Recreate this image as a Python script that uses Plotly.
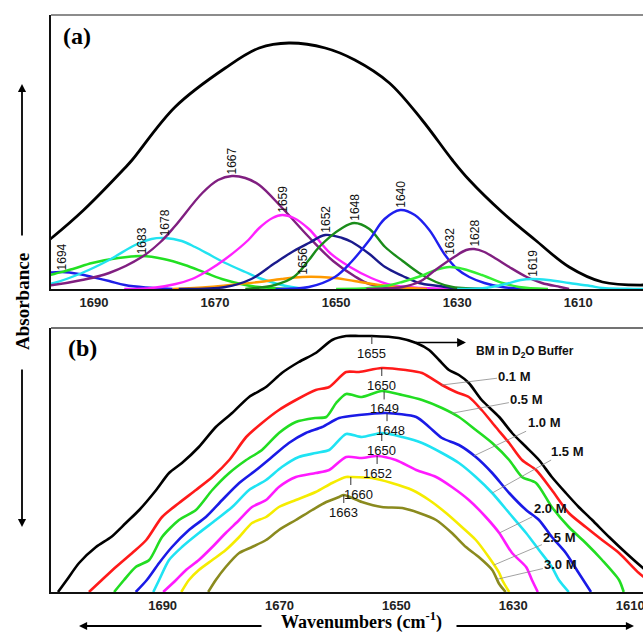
import numpy as np
import plotly.graph_objects as go

# ---------------- Panel (a): amide I band fitting ----------------
# Measured spectrum (black)
a_black_w = [1698.5, 1696.8, 1691.7, 1684.9, 1683.7, 1676.6, 1668.3, 1662.7, 1657.8, 1651.8,
             1646.9, 1641.2, 1635.8, 1630.8, 1628.0, 1622.6, 1617.1, 1611.5, 1606.0, 1598.9]
a_black_h = [44, 52, 79, 121, 129, 182, 221, 241, 246, 241,
             229, 206, 169, 129, 109, 77, 49, 22, 7, 4]

# Fitted component bands (wavenumber, height in arbitrary units)
b1694_w = [1699, 1697.1, 1695.3, 1692.5, 1690.3, 1687.5, 1684.9, 1681.5, 1677]
b1694_h = [15, 16.5, 17, 15, 12, 8, 4, 1.5, 0]
b1683_w = [1699, 1696.6, 1693.5, 1690.3, 1686, 1682.1, 1678.5, 1675.0, 1671.5, 1668.3, 1665, 1662.7, 1658]
b1683_h = [11, 15, 20, 26, 31, 33, 30, 24, 16, 9, 4, 2, 0]
b1678_w = [1699, 1696.6, 1692, 1687.5, 1683.2, 1680.5, 1678.3, 1675.5, 1673.3, 1670.5, 1668.3, 1665, 1662.7, 1659, 1655]
b1678_h = [3, 6, 16, 29, 44, 50, 51, 48, 42, 33, 26, 17, 11, 4, 0]
b1667_w = [1699, 1696.8, 1692, 1687.5, 1682.1, 1679, 1676.6, 1672.1, 1669.5, 1667.2, 1665, 1662.7,
           1658.9, 1654.5, 1650.5, 1647, 1644.5, 1640, 1635]
b1667_h = [3, 4, 9, 16, 32, 47, 63, 96, 109, 113, 111, 104, 81, 52, 28, 13, 5, 1, 0]
b1659_w = [1685, 1680.4, 1676.5, 1673.8, 1671, 1668.3, 1664.5, 1662.7, 1660.5, 1658.9, 1657, 1654.5,
           1651.0, 1647.7, 1644.2, 1640.9, 1636, 1630]
b1659_h = [0, 1, 5, 10, 19, 30, 49, 61, 71, 74, 71, 60, 36, 22, 11, 4, 1, 0]
b1656_w = [1677, 1671.0, 1666, 1662.7, 1659, 1655.6, 1652.5, 1650.2, 1647, 1644, 1640, 1635]
b1656_h = [0, 2, 5, 7, 10, 12, 12, 11, 8, 5, 2, 0]
b1652_w = [1676, 1668.3, 1664, 1660.1, 1657, 1654.5, 1651.8, 1649, 1647.4, 1644.5, 1641.9, 1639,
           1636.3, 1633, 1630.8, 1625]
b1652_h = [0, 2, 10, 26, 38, 46, 54, 51, 47, 35, 22, 13, 6, 3, 1, 0]
b1648_w = [1665, 1660.1, 1657, 1654.5, 1652.8, 1649.0, 1647.0, 1644.5, 1641.9, 1639, 1636.3, 1633.5, 1630.8, 1625]
b1648_h = [0, 4, 12, 29, 42, 61, 66, 60, 42, 28, 16, 7, 2, 0]
b1640_w = [1660, 1654.5, 1650.2, 1647.5, 1644.5, 1642, 1639.4, 1637, 1634.6, 1632.0, 1630, 1628.0,
           1625.5, 1622.6, 1618]
b1640_h = [0, 2, 12, 27, 49, 70, 79, 74, 59, 34, 20, 12, 6, 2, 0]
b1632_w = [1650, 1644.5, 1641, 1639.1, 1636, 1633.5, 1631.3, 1629, 1625.9, 1622.5, 1619.8, 1615]
b1632_h = [0, 1, 4, 7, 13, 19, 22, 20, 14, 6, 2, 0]
b1628_w = [1645, 1639.1, 1636, 1633.6, 1630.5, 1628.5, 1627.2, 1625.5, 1623.5, 1621.4, 1618.5, 1616.0, 1613, 1611.5]
b1628_h = [0, 2, 8, 19, 32, 39, 40, 37, 30, 22, 12, 6, 2, 0]
b1619_w = [1630, 1625.4, 1622, 1619.5, 1617.6, 1615, 1611.5, 1608, 1606.0, 1602, 1599]
b1619_h = [0, 1, 5, 9, 10, 9, 6, 3, 1, 0.3, 0]

band_names = ["1694", "1683", "1678", "1667", "1659", "1656", "1652", "1648", "1640", "1632", "1628", "1619"]

# ---------------- Panel (b): spectra vs. concentration ----------------
s_buffer_w = [1707.9, 1706.4, 1704.3, 1701.4, 1698.8, 1696.3, 1694.0, 1691.1, 1688.9, 1686.7, 1683.8, 1680.9,
              1678.1, 1675.2, 1672.3, 1669.6, 1666.7, 1663.8, 1661.0, 1658.6, 1656.4, 1654.2, 1649.6, 1646.6,
              1644.4, 1642.7, 1641.0, 1639.3, 1637.6, 1635.4, 1632.4, 1630.2, 1627.8, 1625.6, 1623.4, 1621.0,
              1618.8, 1616.5, 1613.6, 1610.7, 1608.0, 1606.5]
s_buffer_h = [0, 12, 29, 45, 55, 69, 82, 102, 119, 129, 145, 165,
              179, 195, 205, 219, 230, 239, 252, 256, 256, 256, 254, 249,
              242, 232, 222, 217, 209, 192, 175, 159, 145, 132, 115, 99,
              85, 72, 55, 39, 25, 18]
s_01_w = [1702.6, 1700.4, 1698.0, 1695.2, 1692.8, 1690.1, 1687.2, 1684.3, 1681.5, 1678.6, 1675.7, 1673.0,
          1670.1, 1667.2, 1663.8, 1661.5, 1658.6, 1656.4, 1652.5, 1648.4, 1645.6, 1642.2, 1639.8, 1637.6,
          1635.4, 1633.0, 1630.7, 1628.5, 1626.1, 1623.4, 1620.5, 1617.6, 1614.8, 1611.9, 1608.5, 1606.5]
s_01_h = [0, 12, 25, 39, 52, 75, 89, 102, 115, 132, 155, 169,
          182, 192, 202, 205, 220, 220, 224, 222, 219, 207, 200, 195,
          182, 165, 149, 132, 122, 102, 79, 65, 52, 39, 19, 10]
s_05_w = [1698.3, 1696.6, 1694.6, 1692.3, 1690.1, 1687.2, 1684.3, 1681.5, 1678.6, 1675.7, 1673.0, 1670.1,
          1667.2, 1663.8, 1662.0, 1660.3, 1658.6, 1655.9, 1652.5, 1649.0, 1645.6, 1642.2, 1639.3, 1636.4,
          1633.6, 1630.7, 1628.5, 1626.1, 1623.4, 1620.5, 1617.6, 1614.8, 1611.9, 1611.1]
s_05_h = [0, 12, 25, 32, 55, 72, 82, 102, 119, 132, 142, 159,
          170, 174, 175, 189, 198, 195, 201, 197, 192, 184, 175, 162,
          149, 132, 115, 109, 85, 65, 49, 32, 12, 0]
s_10_w = [1694.6, 1692.7, 1690.6, 1688.4, 1685.5, 1682.6, 1679.8, 1676.9, 1674.0, 1671.3, 1668.4, 1665.5,
          1662.7, 1659.8, 1656.4, 1651.8, 1646.6, 1644.4, 1642.2, 1639.3, 1636.4, 1633.6, 1630.7, 1627.8,
          1625.6, 1623.4, 1621.0, 1618.8, 1616.7]
s_10_h = [0, 12, 29, 45, 62, 75, 92, 109, 122, 135, 149, 159,
          165, 174, 177, 179, 175, 165, 154, 147, 135, 119, 99, 82,
          72, 55, 39, 19, 0]
s_15_w = [1691.6, 1690.6, 1688.9, 1686.7, 1683.8, 1680.9, 1678.1, 1675.2, 1672.3, 1669.6, 1666.7, 1663.8,
          1661.5, 1658.6, 1655.9, 1652.5, 1649.0, 1645.6, 1642.2, 1639.3, 1636.4, 1633.6, 1630.7, 1627.8,
          1625.6, 1623.4, 1622.2, 1620.5]
s_15_h = [0, 12, 32, 45, 59, 72, 85, 102, 112, 125, 135, 139,
          142, 158, 155, 159, 155, 149, 139, 129, 115, 99, 79, 59,
          42, 25, 12, 0]
s_20_w = [1689.9, 1687.7, 1686.0, 1683.8, 1681.5, 1679.2, 1676.9, 1674.7, 1672.3, 1670.1, 1667.2, 1663.8,
          1661.5, 1658.6, 1655.9, 1653.3, 1650.1, 1646.6, 1643.2, 1640.5, 1637.6, 1634.7, 1632.4, 1630.2,
          1627.8, 1626.8, 1625.8]
s_20_h = [0, 12, 22, 32, 45, 59, 72, 85, 92, 105, 115, 119,
          122, 135, 134, 136, 132, 122, 115, 105, 92, 75, 59, 39,
          25, 12, 0]
s_25_w = [1686.8, 1685.5, 1683.8, 1681.5, 1679.2, 1676.9, 1674.7, 1672.3, 1670.1, 1667.2, 1663.8, 1661.0,
          1658.6, 1657.8, 1654.2, 1650.8, 1647.3, 1644.4, 1641.5, 1638.8, 1636.4, 1634.2, 1632.4, 1631.9, 1630.7]
s_25_h = [0, 12, 22, 32, 42, 55, 69, 75, 85, 92, 100, 109,
          115, 115, 114, 109, 102, 92, 79, 65, 52, 35, 19, 12, 0]
s_30_w = [1682.2, 1680.9, 1679.2, 1676.9, 1674.7, 1672.3, 1670.1, 1667.2, 1664.4, 1662.0, 1659.8, 1659.0,
          1655.9, 1652.5, 1649.0, 1646.1, 1643.2, 1640.5, 1638.1, 1635.9, 1633.6, 1632.4, 1631.3]
s_30_h = [0, 12, 25, 39, 45, 52, 62, 72, 82, 90, 95, 97,
          90, 85, 84, 79, 72, 59, 45, 35, 22, 8, 0]

spectra_names = ["BM in D2O Buffer", "0.1 M", "0.5 M", "1.0 M", "1.5 M", "2.0 M", "2.5 M", "3.0 M"]
peak_labels_b = ["1655", "1650", "1649", "1648", "1650", "1652", "1660", "1663"]
peak_pos_b = [1654.2, 1652.5, 1652.1, 1651.6, 1652.5, 1653.3, 1657.8, 1659.0]
leader_pos_b = [None, 1642.2, 1640.5, 1636.7, 1633.6, 1632.4, 1633.3, 1632.8]

tick_vals = [1690, 1670, 1650, 1630, 1610]

# ---------------- styles / layout ----------------
W, H = 643, 633
ML, MR, MT, MB = 51, 0, 15, 41
PW, PH = W - ML - MR, H - MT - MB


def px(x):
    return (x - ML) / PW


def py(y):
    return (H - MB - y) / PH


band_colors = {"1694": "#1f1fe6", "1683": "#22e022", "1678": "#22e3f0", "1667": "#801f80",
               "1659": "#ff22ff", "1656": "#ff9a00", "1652": "#1a1a8c", "1648": "#1a8c1a",
               "1640": "#1f1fee", "1632": "#33ee33", "1628": "#801f80", "1619": "#22e3f0"}
band_yshift = {"1632": 10}
spec_colors = ["#000000", "#ff1a1a", "#22dd22", "#1a1ae6", "#1fe3f3", "#ff1aff", "#f5ec00", "#8a8a1e"]
text_ofs = {"0.1 M": (73, -9), "0.5 M": (75, -14), "1.0 M": (70, -33), "1.5 M": (75, -42),
            "2.0 M": (51, -25), "2.5 M": (66, -28), "3.0 M": (64, -15)}
peak_xshift = {"1660": 8, "1648": 3}

SANS = "Liberation Sans, Arial, sans-serif"
SERIF = "Liberation Serif, Times New Roman, serif"

fig = go.Figure()

bands = {n: (globals()["b%s_w" % n], globals()["b%s_h" % n]) for n in band_names}
for n in band_names:
    w, h = bands[n]
    fig.add_trace(go.Scatter(x=w, y=h, mode="lines", line=dict(color=band_colors[n], width=2.4,
                             shape="spline", smoothing=1.0), xaxis="x", yaxis="y", showlegend=False,
                             hoverinfo="skip"))
fig.add_trace(go.Scatter(x=a_black_w, y=a_black_h, mode="lines",
                         line=dict(color="#000000", width=2.8, shape="spline", smoothing=1.0),
                         xaxis="x", yaxis="y", showlegend=False, hoverinfo="skip"))

spectra = [(s_buffer_w, s_buffer_h), (s_01_w, s_01_h), (s_05_w, s_05_h), (s_10_w, s_10_h),
           (s_15_w, s_15_h), (s_20_w, s_20_h), (s_25_w, s_25_h), (s_30_w, s_30_h)]
for (w, h), c in zip(spectra, spec_colors):
    fig.add_trace(go.Scatter(x=w, y=h, mode="lines", line=dict(color=c, width=2.6, shape="spline",
                             smoothing=0.7), xaxis="x2", yaxis="y2", showlegend=False, hoverinfo="skip"))

ann = []
shapes = []

# band labels, rotated, above each band maximum
for n in band_names:
    w, h = bands[n]
    i = int(np.argmax(h))
    ann.append(dict(x=w[i], y=h[i], xref="x", yref="y", text=n, showarrow=False, textangle=-90,
                    xanchor="center", yanchor="bottom", yshift=band_yshift.get(n, 0),
                    font=dict(family=SANS, size=12, color="#111")))

# peak marks and labels in (b)
for (w, h), lab, pos in zip(spectra, peak_labels_b, peak_pos_b):
    wa = np.array(w)[::-1]
    ha = np.array(h)[::-1]
    hp = float(np.interp(pos, wa, ha))
    shapes.append(dict(type="line", xref="x2", yref="y2", x0=pos, x1=pos, y0=hp, y1=hp - 8,
                       line=dict(color="#333", width=1)))
    ann.append(dict(x=pos, y=hp - 8, xref="x2", yref="y2", text=lab, showarrow=False,
                    xanchor="center", yanchor="top", xshift=peak_xshift.get(lab, 0),
                    font=dict(family=SANS, size=13, color="#111")))

# concentration labels with leader lines
for (w, h), name, lp in zip(spectra, spectra_names, leader_pos_b):
    if lp is None:
        continue
    wa = np.array(w)[::-1]
    ha = np.array(h)[::-1]
    hp = float(np.interp(lp, wa, ha))
    ax, ay = text_ofs[name]
    ann.append(dict(x=lp, y=hp, xref="x2", yref="y2", text="<b>%s</b>" % name, showarrow=True,
                    arrowhead=0, arrowwidth=0.8, arrowcolor="#8a8a8a", ax=ax, ay=ay,
                    font=dict(family=SANS, size=13, color="#111")))

# buffer arrow + label
wa = np.array(s_buffer_w)[::-1]
ha = np.array(s_buffer_h)[::-1]
tail_w = 1646.9
head_w = 1638.1
hb = float(np.interp(tail_w, wa, ha))
ann.append(dict(x=head_w, y=hb, xref="x2", yref="y2", ax=tail_w, ay=hb, axref="x2", ayref="y2",
                text="", showarrow=True, arrowhead=2, arrowsize=1.1, arrowwidth=1.6, arrowcolor="#000"))
ann.append(dict(x=1636.7, y=hb - 9, xref="x2", yref="y2", xanchor="left", yanchor="middle",
                text="<b>BM in D<sub>2</sub>O Buffer</b>", showarrow=False,
                font=dict(family=SANS, size=12, color="#111")))

# panel letters
ann.append(dict(x=px(77), y=py(36), xref="paper", yref="paper", text="<b>(a)</b>", showarrow=False,
                xanchor="center", yanchor="middle", font=dict(family=SERIF, size=24, color="#000")))
ann.append(dict(x=px(82), y=py(348), xref="paper", yref="paper", text="<b>(b)</b>", showarrow=False,
                xanchor="center", yanchor="middle", font=dict(family=SERIF, size=24, color="#000")))

# axis titles with arrows
ann.append(dict(x=px(22), y=py(302), xref="paper", yref="paper", text="<b>Absorbance</b>",
                showarrow=False, textangle=-90, xanchor="center", yanchor="middle",
                font=dict(family=SERIF, size=19, color="#000")))
ann.append(dict(x=px(22), y=py(84), xref="paper", yref="paper", text="", showarrow=True, ax=0, ay=153,
                arrowhead=2, arrowsize=0.9, arrowwidth=1.8, arrowcolor="#000"))
ann.append(dict(x=px(22), y=py(527), xref="paper", yref="paper", text="", showarrow=True, ax=0, ay=-159,
                arrowhead=2, arrowsize=0.9, arrowwidth=1.8, arrowcolor="#000"))
ann.append(dict(x=px(361), y=py(621), xref="paper", yref="paper",
                text="<b>Wavenumbers (cm<sup>-1</sup>)</b>", showarrow=False,
                xanchor="center", yanchor="middle", font=dict(family=SERIF, size=18, color="#000")))
ann.append(dict(x=px(79), y=py(626), xref="paper", yref="paper", text="", showarrow=True, ax=184, ay=0,
                arrowhead=2, arrowsize=0.9, arrowwidth=1.8, arrowcolor="#000"))
ann.append(dict(x=px(634), y=py(626), xref="paper", yref="paper", text="", showarrow=True, ax=-179, ay=0,
                arrowhead=2, arrowsize=0.9, arrowwidth=1.8, arrowcolor="#000"))

# top frame lines
shapes.append(dict(type="line", xref="paper", yref="paper", x0=0, x1=1, y0=1, y1=1,
                   line=dict(color="#666", width=1.5)))
shapes.append(dict(type="line", xref="paper", yref="paper", x0=0, x1=1, y0=py(328), y1=py(328),
                   line=dict(color="#444", width=1.5)))

axis_common = dict(showgrid=False, zeroline=False, showline=True, linecolor="#111", linewidth=2,
                   ticks="", automargin=False)
fig.update_layout(
    width=W, height=H, margin=dict(l=ML, r=MR, t=MT, b=MB),
    paper_bgcolor="white", plot_bgcolor="white", showlegend=False,
    xaxis=dict(range=[1697.1, 1599.3], domain=[0, 1], anchor="y", tickvals=tick_vals,
               ticklabeloverflow="allow",
               tickfont=dict(family=SANS, size=13, color="#222", weight="bold"), **axis_common),
    yaxis=dict(range=[0, 274], domain=[py(289), 1], anchor="x", showticklabels=False, **axis_common),
    xaxis2=dict(range=[1709.1, 1607.8], domain=[0, 1], anchor="y2", tickvals=tick_vals,
                ticklabeloverflow="allow",
                tickfont=dict(family=SANS, size=13, color="#222", weight="bold"), **axis_common),
    yaxis2=dict(range=[0, 264], domain=[0, py(328)], anchor="x2", showticklabels=False, **axis_common),
    annotations=ann, shapes=shapes,
)

fig.write_html("out.html", config={"displayModeBar": False, "staticPlot": True},
               post_script="document.body.style.margin='0px';document.body.style.overflow='hidden';")
